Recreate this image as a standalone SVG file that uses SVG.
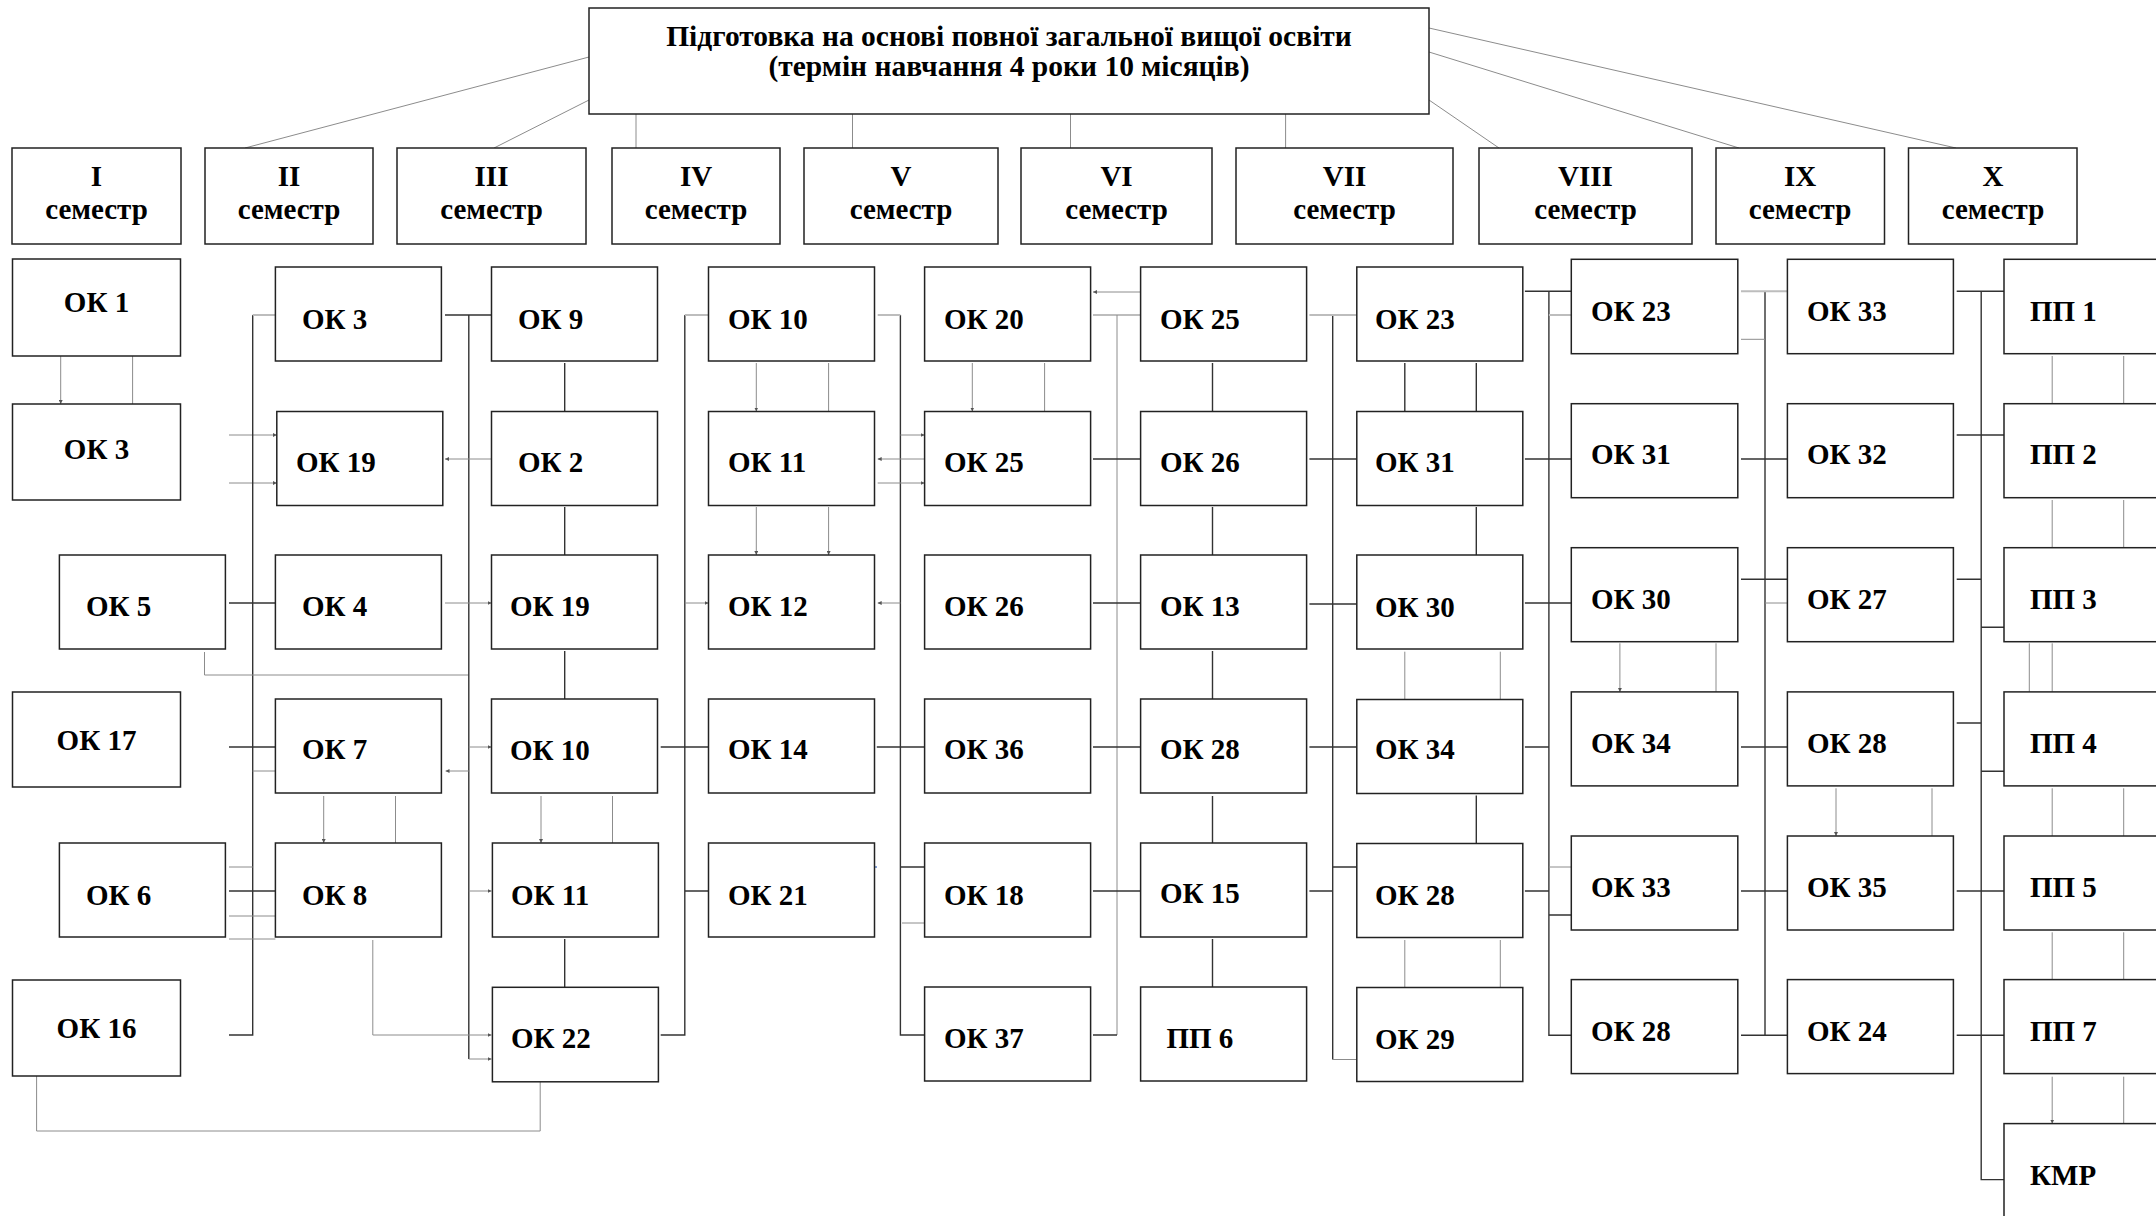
<svg xmlns="http://www.w3.org/2000/svg" width="2156" height="1216" viewBox="0 0 2156 1216">
<defs>
<style>
.b{fill:#fff;stroke:#222;stroke-width:1.5}
.t{font-family:"Liberation Serif","Times New Roman",serif;font-weight:bold;font-size:29px;fill:#000}
.c{text-anchor:middle}
.h{font-family:"Liberation Serif","Times New Roman",serif;font-weight:bold;font-size:29px;fill:#000;text-anchor:middle}
.ti{font-size:29.5px}
.d{stroke:#333;stroke-width:1.4;fill:none}
.g{stroke:#8c8c8c;stroke-width:1;fill:none}
.l{stroke:#bdbdbd;stroke-width:2;fill:none}
.bl{stroke:#4472c4;stroke-width:1.3;fill:none}
</style>
<marker id="a" viewBox="0 0 6 6" refX="6" refY="3" markerWidth="4" markerHeight="4" markerUnits="userSpaceOnUse" orient="auto"><path d="M0,0L6,3L0,6z" fill="#555"/></marker>
</defs>
<rect width="2156" height="1216" fill="#fff"/>

<g id="connectors">
<!-- top to semesters -->
<path class="g" d="M589,57L245,148M589,100L494,148M636,114V148M852.5,114V148M1070.5,114V148M1285.6,114V148M1429,100L1499,148M1429,52L1739,148M1429,28L1956,148"/>
<!-- column 1 -->
<path class="g" d="M60.7,356V404" marker-end="url(#a)"/>
<path class="g" d="M132.6,356V404"/>
<path class="g" d="M229,435H276.8" marker-end="url(#a)"/>
<path class="g" d="M229,483H276.8" marker-end="url(#a)"/>
<path class="d" d="M252.7,315V1035H229"/>
<path class="l" d="M252.7,315H275.4"/>
<path class="d" d="M229,603H275.4M229,747H275.4M229,891H275.4"/>
<path class="g" d="M252.7,771H275.4M229,867H252.7M229,916H275.4M229,939H275.4"/>
<path class="g" d="M204.5,652V675H468.8"/>
<path class="g" d="M36.6,1076V1131H540.2V1082"/>
<!-- column 2 -->
<path class="d" d="M445,315H491.5M468.8,315V1059"/>
<path class="g" d="M491.5,459H445" marker-end="url(#a)"/>
<path class="g" d="M445,603H491.5" marker-end="url(#a)"/>
<path class="g" d="M468.8,771H445.5" marker-end="url(#a)"/>
<path class="g" d="M468.8,747H491.5" marker-end="url(#a)"/>
<path class="g" d="M468.8,891H491.5" marker-end="url(#a)"/>
<path class="g" d="M468.8,1059H491.5" marker-end="url(#a)"/>
<path class="g" d="M323.7,796V843" marker-end="url(#a)"/>
<path class="g" d="M395.5,796V843"/>
<path class="g" d="M372.8,940V1035H491.5" marker-end="url(#a)"/>
<!-- column 3 -->
<path class="d" d="M564.7,363V411.5M564.7,507V555M564.7,651V699M564.7,939V987"/>
<path class="g" d="M541,796V843" marker-end="url(#a)"/>
<path class="g" d="M612.5,796V843"/>
<path class="d" d="M684.8,315V1035H660.7M660.7,747H708.5M684.8,891H708.5"/>
<path class="l" d="M684.8,315H708.5"/>
<path class="g" d="M684.8,603H708.5" marker-end="url(#a)"/>
<!-- column 4 -->
<path class="g" d="M756.3,363V411.5" marker-end="url(#a)"/>
<path class="g" d="M828.6,363V411.5"/>
<path class="g" d="M756.3,507V555" marker-end="url(#a)"/>
<path class="g" d="M828.6,507V555" marker-end="url(#a)"/>
<path class="d" d="M900.4,315V1035H924.6M876.8,747H924.6M900.4,867H924.6"/>
<path class="l" d="M877.7,315H900.4"/>
<path class="g" d="M900.4,435H924.6" marker-end="url(#a)"/>
<path class="g" d="M924.6,459H877.7" marker-end="url(#a)"/>
<path class="g" d="M877.7,483H924.6" marker-end="url(#a)"/>
<path class="g" d="M900.4,603H877.7" marker-end="url(#a)"/>
<path class="g" d="M902,923H924.6"/>
<path class="bl" d="M851,867H877"/>
<!-- column 5 -->
<path class="g" d="M972.3,363V411.5" marker-end="url(#a)"/>
<path class="g" d="M1044.6,363V411.5"/>
<path class="g" d="M1140.6,292H1093" marker-end="url(#a)"/>
<path class="l" d="M1093,315H1140.6"/>
<path class="g" d="M1117,315V1035"/>
<path class="d" d="M1093,459H1140.6M1093,603H1140.6M1093,747H1140.6M1093,891H1140.6M1093,1035H1117"/>
<!-- column 6 -->
<path class="d" d="M1212.5,363V411.5M1212.5,507V555M1212.5,651V699M1212.5,796V843M1212.5,939V987"/>
<path class="d" d="M1332.7,315V1059.5M1309.4,459H1356.8M1309.4,604H1356.8M1309.4,747H1356.8M1332.7,867H1356.8M1309.4,891H1332.7"/>
<path class="l" d="M1309.4,315H1356.8"/>
<path class="g" d="M1332.7,1059.5H1356.8"/>
<!-- column 7 -->
<path class="d" d="M1404.8,363V411.5M1476.3,363V411.5M1476.3,507V555M1476.3,795.5V843.5"/>
<path class="g" d="M1404.8,651.7V699.5M1500.3,651.7V699.5M1404.8,940V987.5M1500.3,940V987.5"/>
<path class="d" d="M1548.9,291.3V1035.2H1571.3M1524.9,291.3H1571.3M1524.9,459H1571.3M1524.9,603H1571.3M1524.9,747H1548.9M1524.9,891H1548.9M1548.9,915H1571.3"/>
<path class="l" d="M1548.9,315H1571.3"/>
<path class="g" d="M1548.9,867H1571.3"/>
<!-- column 8 -->
<path class="g" d="M1619.9,643.3V691.9" marker-end="url(#a)"/>
<path class="g" d="M1716,643.3V691.9"/>
<path class="d" d="M1765,291.3V1035.2M1741,459H1787.4M1741,579.3H1787.4M1741,747H1787.4M1741,891H1787.4M1741,1035.2H1787.4"/>
<path class="l" d="M1741,291.3H1787.4"/>
<path class="g" d="M1741,339.3H1765M1765,603H1787.4"/>
<!-- column 9 -->
<path class="g" d="M1836,788.3V836" marker-end="url(#a)"/>
<path class="g" d="M1932,788.3V836"/>
<path class="d" d="M1981.2,291.3V1179.6H2004M1956.7,291.3H2004M1956.7,435H2004M1956.7,579.3H1981.2M1981.2,627.3H2004M1956.7,723H1981.2M1981.2,771.3H2004M1956.7,891H2004M1956.7,1035.2H2004"/>
<!-- column 10 -->
<path class="g" d="M2052.2,356V403.7M2052.2,500V547.7M2052.2,643.3V692M2052.2,788.3V836M2052.2,932.3V979.6M2052.2,1076.7V1123.6" marker-end="url(#a)"/>
<path class="g" d="M2123.7,356V403.7M2123.7,500V547.7M2029.3,643.3V692M2123.7,788.3V836M2123.7,932.3V979.6M2123.7,1076.7V1123.6"/>
</g>

<g id="top"><rect class="b" x="589" y="8" width="840" height="106"/>
<text class="h ti" x="1009" y="46">Підготовка на основі повної загальної вищої освіти</text>
<text class="h ti" x="1009" y="76">(термін навчання 4 роки 10 місяців)</text></g>

<g id="sem1"><rect class="b" x="12" y="148" width="169" height="96"/><text class="h" x="96.5" y="186">I</text><text class="h" x="96.5" y="219">семестр</text></g>
<g id="sem2"><rect class="b" x="205" y="148" width="168" height="96"/><text class="h" x="289" y="186">II</text><text class="h" x="289" y="219">семестр</text></g>
<g id="sem3"><rect class="b" x="397" y="148" width="189" height="96"/><text class="h" x="491.5" y="186">III</text><text class="h" x="491.5" y="219">семестр</text></g>
<g id="sem4"><rect class="b" x="612" y="148" width="168" height="96"/><text class="h" x="696" y="186">IV</text><text class="h" x="696" y="219">семестр</text></g>
<g id="sem5"><rect class="b" x="804" y="148" width="194" height="96"/><text class="h" x="901" y="186">V</text><text class="h" x="901" y="219">семестр</text></g>
<g id="sem6"><rect class="b" x="1021" y="148" width="191" height="96"/><text class="h" x="1116.5" y="186">VI</text><text class="h" x="1116.5" y="219">семестр</text></g>
<g id="sem7"><rect class="b" x="1236" y="148" width="217" height="96"/><text class="h" x="1344.5" y="186">VII</text><text class="h" x="1344.5" y="219">семестр</text></g>
<g id="sem8"><rect class="b" x="1479" y="148" width="213" height="96"/><text class="h" x="1585.5" y="186">VIII</text><text class="h" x="1585.5" y="219">семестр</text></g>
<g id="sem9"><rect class="b" x="1716" y="148" width="168.5" height="96"/><text class="h" x="1800" y="186">IX</text><text class="h" x="1800" y="219">семестр</text></g>
<g id="sem10"><rect class="b" x="1908.5" y="148" width="168.5" height="96"/><text class="h" x="1993" y="186">X</text><text class="h" x="1993" y="219">семестр</text></g>

<!-- column 1 -->
<g id="c1-ok1"><rect class="b" x="12.5" y="259" width="168" height="97"/><text class="t c" x="96.5" y="312">ОК 1</text></g>
<g id="c1-ok3"><rect class="b" x="12.5" y="404" width="168" height="96"/><text class="t c" x="96.5" y="459">ОК 3</text></g>
<g id="c1-ok5"><rect class="b" x="59.4" y="555" width="166" height="94"/><text class="t" x="86" y="616">ОК 5</text></g>
<g id="c1-ok17"><rect class="b" x="12.5" y="692" width="168" height="95"/><text class="t c" x="96.5" y="750">ОК 17</text></g>
<g id="c1-ok6"><rect class="b" x="59.4" y="843" width="166" height="94"/><text class="t" x="86" y="905">ОК 6</text></g>
<g id="c1-ok16"><rect class="b" x="12.5" y="980" width="168" height="96"/><text class="t c" x="96.5" y="1038">ОК 16</text></g>
<!-- column 2 -->
<g id="c2-ok3"><rect class="b" x="275.4" y="267" width="166" height="94"/><text class="t" x="302" y="329">ОК 3</text></g>
<g id="c2-ok19"><rect class="b" x="276.8" y="411.5" width="166" height="94"/><text class="t" x="296" y="472">ОК 19</text></g>
<g id="c2-ok4"><rect class="b" x="275.4" y="555" width="166" height="94"/><text class="t" x="302" y="616">ОК 4</text></g>
<g id="c2-ok7"><rect class="b" x="275.4" y="699" width="166" height="94"/><text class="t" x="302" y="759">ОК 7</text></g>
<g id="c2-ok8"><rect class="b" x="275.4" y="843" width="166" height="94"/><text class="t" x="302" y="905">ОК 8</text></g>
<!-- column 3 -->
<g id="c3-ok9"><rect class="b" x="491.5" y="267" width="166" height="94"/><text class="t" x="518" y="329">ОК 9</text></g>
<g id="c3-ok2"><rect class="b" x="491.5" y="411.5" width="166" height="94"/><text class="t" x="518" y="472">ОК 2</text></g>
<g id="c3-ok19"><rect class="b" x="491.5" y="555" width="166" height="94"/><text class="t" x="510" y="616">ОК 19</text></g>
<g id="c3-ok10"><rect class="b" x="491.5" y="699" width="166" height="94"/><text class="t" x="510" y="760">ОК 10</text></g>
<g id="c3-ok11"><rect class="b" x="492.4" y="843" width="166" height="94"/><text class="t" x="511" y="905">ОК 11</text></g>
<g id="c3-ok22"><rect class="b" x="492.4" y="987.3" width="166" height="94.5"/><text class="t" x="511" y="1048">ОК 22</text></g>
<!-- column 4 -->
<g id="c4-ok10"><rect class="b" x="708.5" y="267" width="166" height="94"/><text class="t" x="728" y="329">ОК 10</text></g>
<g id="c4-ok11"><rect class="b" x="708.5" y="411.5" width="166" height="94"/><text class="t" x="728" y="472">ОК 11</text></g>
<g id="c4-ok12"><rect class="b" x="708.5" y="555" width="166" height="94"/><text class="t" x="728" y="616">ОК 12</text></g>
<g id="c4-ok14"><rect class="b" x="708.5" y="699" width="166" height="94"/><text class="t" x="728" y="759">ОК 14</text></g>
<g id="c4-ok21"><rect class="b" x="708.5" y="843" width="166" height="94"/><text class="t" x="728" y="905">ОК 21</text></g>
<!-- column 5 -->
<g id="c5-ok20"><rect class="b" x="924.6" y="267" width="166" height="94"/><text class="t" x="944" y="329">ОК 20</text></g>
<g id="c5-ok25"><rect class="b" x="924.6" y="411.5" width="166" height="94"/><text class="t" x="944" y="472">ОК 25</text></g>
<g id="c5-ok26"><rect class="b" x="924.6" y="555" width="166" height="94"/><text class="t" x="944" y="616">ОК 26</text></g>
<g id="c5-ok36"><rect class="b" x="924.6" y="699" width="166" height="94"/><text class="t" x="944" y="759">ОК 36</text></g>
<g id="c5-ok18"><rect class="b" x="924.6" y="843" width="166" height="94"/><text class="t" x="944" y="905">ОК 18</text></g>
<g id="c5-ok37"><rect class="b" x="924.6" y="987" width="166" height="94"/><text class="t" x="944" y="1048">ОК 37</text></g>
<!-- column 6 -->
<g id="c6-ok25"><rect class="b" x="1140.6" y="267" width="166" height="94"/><text class="t" x="1160" y="329">ОК 25</text></g>
<g id="c6-ok26"><rect class="b" x="1140.6" y="411.5" width="166" height="94"/><text class="t" x="1160" y="472">ОК 26</text></g>
<g id="c6-ok13"><rect class="b" x="1140.6" y="555" width="166" height="94"/><text class="t" x="1160" y="616">ОК 13</text></g>
<g id="c6-ok28"><rect class="b" x="1140.6" y="699" width="166" height="94"/><text class="t" x="1160" y="759">ОК 28</text></g>
<g id="c6-ok15"><rect class="b" x="1140.6" y="843" width="166" height="94"/><text class="t" x="1160" y="903">ОК 15</text></g>
<g id="c6-pp6"><rect class="b" x="1140.6" y="987" width="166" height="94"/><text class="t" x="1166.5" y="1048">ПП 6</text></g>
<!-- column 7 -->
<g id="c7-ok23"><rect class="b" x="1356.8" y="267" width="166" height="94"/><text class="t" x="1375" y="329">ОК 23</text></g>
<g id="c7-ok31"><rect class="b" x="1356.8" y="411.5" width="166" height="94"/><text class="t" x="1375" y="472">ОК 31</text></g>
<g id="c7-ok30"><rect class="b" x="1356.8" y="555" width="166" height="94"/><text class="t" x="1375" y="617">ОК 30</text></g>
<g id="c7-ok34"><rect class="b" x="1356.8" y="699.5" width="166" height="94"/><text class="t" x="1375" y="759">ОК 34</text></g>
<g id="c7-ok28"><rect class="b" x="1356.8" y="843.5" width="166" height="94"/><text class="t" x="1375" y="904.5">ОК 28</text></g>
<g id="c7-ok29"><rect class="b" x="1356.8" y="987.5" width="166" height="94"/><text class="t" x="1375" y="1049">ОК 29</text></g>
<!-- column 8 -->
<g id="c8-ok23"><rect class="b" x="1571.3" y="259.3" width="166.5" height="94.4"/><text class="t" x="1591" y="321">ОК 23</text></g>
<g id="c8-ok31"><rect class="b" x="1571.3" y="403.7" width="166.5" height="94"/><text class="t" x="1591" y="464">ОК 31</text></g>
<g id="c8-ok30"><rect class="b" x="1571.3" y="547.7" width="166.5" height="94"/><text class="t" x="1591" y="609">ОК 30</text></g>
<g id="c8-ok34"><rect class="b" x="1571.3" y="691.9" width="166.5" height="94"/><text class="t" x="1591" y="753">ОК 34</text></g>
<g id="c8-ok33"><rect class="b" x="1571.3" y="836" width="166.5" height="94"/><text class="t" x="1591" y="897">ОК 33</text></g>
<g id="c8-ok28"><rect class="b" x="1571.3" y="979.6" width="166.5" height="94"/><text class="t" x="1591" y="1041">ОК 28</text></g>
<!-- column 9 -->
<g id="c9-ok33"><rect class="b" x="1787.4" y="259.3" width="166" height="94.4"/><text class="t" x="1807" y="321">ОК 33</text></g>
<g id="c9-ok32"><rect class="b" x="1787.4" y="403.7" width="166" height="94"/><text class="t" x="1807" y="464">ОК 32</text></g>
<g id="c9-ok27"><rect class="b" x="1787.4" y="547.7" width="166" height="94"/><text class="t" x="1807" y="609">ОК 27</text></g>
<g id="c9-ok28"><rect class="b" x="1787.4" y="691.9" width="166" height="94"/><text class="t" x="1807" y="753">ОК 28</text></g>
<g id="c9-ok35"><rect class="b" x="1787.4" y="836" width="166" height="94"/><text class="t" x="1807" y="897">ОК 35</text></g>
<g id="c9-ok24"><rect class="b" x="1787.4" y="979.6" width="166" height="94"/><text class="t" x="1807" y="1041">ОК 24</text></g>
<!-- column 10 -->
<g id="c10-pp1"><rect class="b" x="2004" y="259.3" width="166" height="94.4"/><text class="t" x="2030" y="321">ПП 1</text></g>
<g id="c10-pp2"><rect class="b" x="2004" y="403.7" width="166" height="94"/><text class="t" x="2030" y="464">ПП 2</text></g>
<g id="c10-pp3"><rect class="b" x="2004" y="547.7" width="166" height="94"/><text class="t" x="2030" y="609">ПП 3</text></g>
<g id="c10-pp4"><rect class="b" x="2004" y="691.9" width="166" height="94"/><text class="t" x="2030" y="753">ПП 4</text></g>
<g id="c10-pp5"><rect class="b" x="2004" y="836" width="166" height="94"/><text class="t" x="2030" y="897">ПП 5</text></g>
<g id="c10-pp7"><rect class="b" x="2004" y="979.6" width="166" height="94"/><text class="t" x="2030" y="1041">ПП 7</text></g>
<g id="c10-kmr"><rect class="b" x="2004" y="1123.6" width="166" height="100"/><text class="t" x="2030" y="1185">КМР</text></g>
</svg>
